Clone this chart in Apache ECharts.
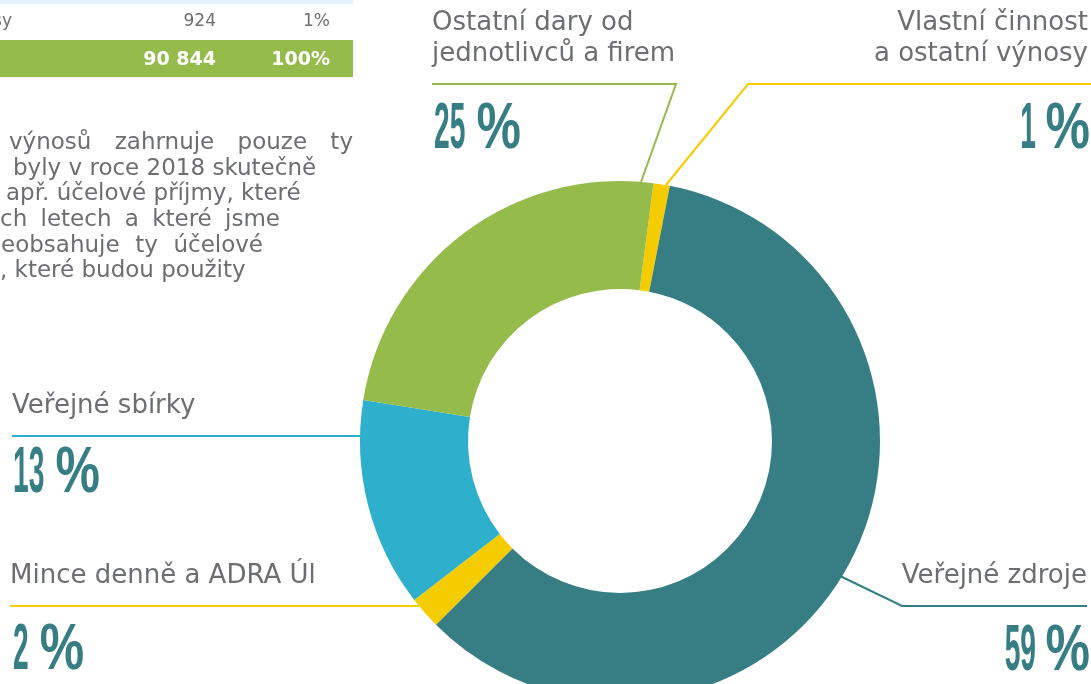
<!DOCTYPE html>
<html><head><meta charset="utf-8">
<script src="https://cdn.jsdelivr.net/npm/echarts@6/dist/echarts.min.js"></script>
<style>html,body{margin:0;padding:0;background:#fff}#c{width:1091px;height:684px}</style>
</head><body><div id="c"></div>
<script>
// ---- data ----
const categories = ['Vlastní činnost\na ostatní výnosy', 'Veřejné zdroje', 'Mince denně a ADRA Úl', 'Veřejné sbírky', 'Ostatní dary od\njednotlivců a firem'];
const values = [924, 54000, 1830, 11800, 22290];
const colors = ['#f4cc00', '#367e84', '#f4cc00', '#2eb0cc', '#95bb4b'];
const tableRow = ['výnosy', '924', '1%'];
const tableTotal = ['90 844', '100%'];
const paragraphLines = ['výnosů zahrnuje pouze ty', 'byly v roce 2018 skutečně', 'apř. účelové příjmy, které', 'ch letech a které jsme', 'eobsahuje ty účelové', ', které budou použity'];

// ---- layout ----
const GRAY = '#6d6e71';
const TEAL = '#367e84';
const LABEL_FONT = 'DejaVu Sans';
const labelPos = [
  {x: 1088, y: 7.5, align: 'right', line: [[666, 185], [748, 84], [1091, 84]]},
  {x: 1087, y: 560.5, align: 'right', line: [[838, 575], [902, 606], [1087, 606]]},
  {x: 10, y: 560.5, align: 'left', line: [[419, 606], [300, 606], [10, 606]]},
  {x: 12, y: 390.5, align: 'left', line: [[360, 436], [200, 436], [12, 436]]},
  {x: 432, y: 7.5, align: 'left', line: [[641, 182], [676, 84], [432, 84]]}
];
const pctPos = [
  {side: 'right', x: 1088, cy: 130},
  {side: 'right', x: 1088, cy: 652},
  {side: 'left', x: 13, cy: 651},
  {side: 'left', x: 13, cy: 474},
  {side: 'left', x: 434, cy: 130}
];
const paraLayout = [
  {l: 9, r: 353, b: 151}, {l: 13, r: null, b: 177}, {l: 6, r: null, b: 202},
  {l: 0, r: 280, b: 228}, {l: 1, r: 263, b: 254}, {l: 0, r: null, b: 279}
];

const total = values.reduce((a, b) => a + b, 0);
const graphics = [];

// percentages (computed from data)
const PF = 64;
values.forEach((v, i) => {
  const pct = String(Math.round(v / total * 100));
  const p = pctPos[i];
  const numBase = {type: 'text', scaleX: 0.44, y: p.cy,
    style: {text: pct, font: 'bold ' + PF + 'px "Liberation Sans"', fill: TEAL, verticalAlign: 'middle', textVerticalAlign: 'middle'}};
  const pcBase = {type: 'text', scaleX: 0.78, y: p.cy,
    style: {text: '%', font: 'bold ' + PF + 'px "Liberation Sans"', fill: TEAL, verticalAlign: 'middle', textVerticalAlign: 'middle'}};
  if (p.side === 'left') {
    numBase.x = p.x; numBase.style.align = numBase.style.textAlign = 'left';
    pcBase.x = p.x + pct.length * 15.7 + 11; pcBase.style.align = pcBase.style.textAlign = 'left';
  } else {
    pcBase.x = p.x + 2; pcBase.style.align = pcBase.style.textAlign = 'right';
    numBase.x = p.x - 52; numBase.style.align = numBase.style.textAlign = 'right';
  }
  graphics.push(numBase, pcBase);
});

// table fragment
graphics.push({type: 'rect', shape: {x: 0, y: 0, width: 353, height: 4}, style: {fill: '#e2f0f8'}});
graphics.push({type: 'rect', shape: {x: 0, y: 40, width: 353, height: 37}, style: {fill: '#95bb4b'}});
const rowX = [12, 216, 330];
tableRow.forEach((t, i) => graphics.push({type: 'text', x: rowX[i], y: 22,
  style: {text: t, font: '17px "DejaVu Sans"', fill: GRAY, align: 'right', textAlign: 'right', verticalAlign: 'middle', textVerticalAlign: 'middle'}}));
const totX = [216, 330];
tableTotal.forEach((t, i) => graphics.push({type: 'text', x: totX[i], y: 60.5,
  style: {text: t, font: 'bold 19px "DejaVu Sans"', fill: '#ffffff', align: 'right', textAlign: 'right', verticalAlign: 'middle', textVerticalAlign: 'middle'}}));

// paragraph (justified words where the original is justified)
const PFS = 23;
const cv = document.createElement('canvas').getContext('2d');
cv.font = PFS + 'px "DejaVu Sans"';
paragraphLines.forEach((line, i) => {
  const L = paraLayout[i];
  const y = L.b - 0.346 * PFS;
  const words = line.split(' ');
  if (L.r == null || words.length < 2) {
    graphics.push({type: 'text', x: L.l, y: y, style: {text: line, font: PFS + 'px "DejaVu Sans"', fill: GRAY, align: 'left', textAlign: 'left', verticalAlign: 'middle', textVerticalAlign: 'middle'}});
    return;
  }
  const widths = words.map(w => cv.measureText(w).width);
  const sum = widths.reduce((a, b) => a + b, 0);
  const gap = (L.r - L.l - sum) / (words.length - 1);
  let x = L.l;
  words.forEach((w, k) => {
    graphics.push({type: 'text', x: x, y: y, style: {text: w, font: PFS + 'px "DejaVu Sans"', fill: GRAY, align: 'left', textAlign: 'left', verticalAlign: 'middle', textVerticalAlign: 'middle'}});
    x += widths[k] + gap;
  });
});

const chart = echarts.init(document.getElementById('c'), null, {renderer: 'canvas'});
chart.setOption({
  animation: false,
  backgroundColor: '#ffffff',
  graphic: graphics,
  series: [{
    type: 'pie',
    center: [620, 441],
    radius: [152, 260],
    startAngle: 82.6,
    clockwise: true,
    avoidLabelOverlap: false,
    emphasis: {scale: false},
    itemStyle: {borderWidth: 0},
    label: {show: true, position: 'outside', formatter: '{b}', color: GRAY,
      fontFamily: LABEL_FONT, fontSize: 26, lineHeight: 31},
    labelLine: {show: true, lineStyle: {width: 2}},
    labelLayout: function (params) {
      const p = labelPos[params.dataIndex];
      return {x: p.x, y: p.y, align: p.align, verticalAlign: 'top', labelLinePoints: p.line};
    },
    data: categories.map((c, i) => ({name: c, value: values[i], itemStyle: {color: colors[i]}}))
  }]
});
</script>
</body></html>
